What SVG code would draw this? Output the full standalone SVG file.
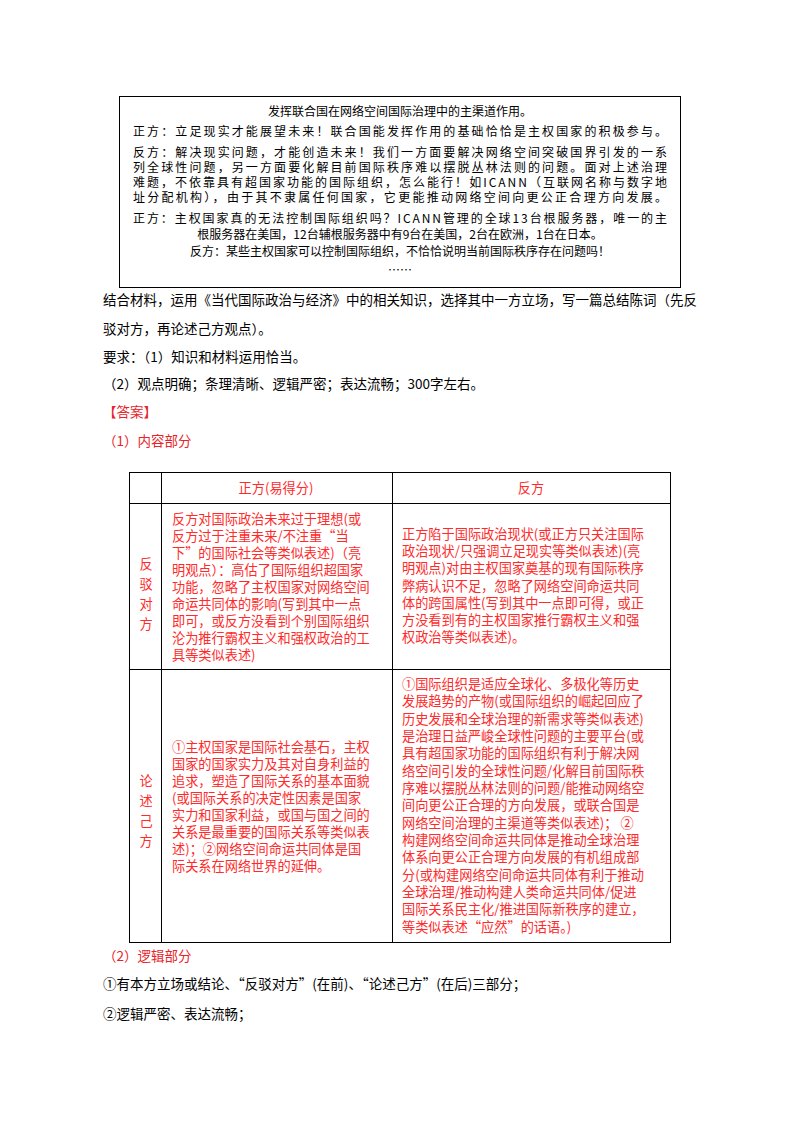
<svg xmlns="http://www.w3.org/2000/svg" width="800" height="1132" viewBox="0 0 800 1132">
<style>
text{font-family:"Noto Sans CJK SC","Liberation Sans",sans-serif;}
.b{font-size:12px;fill:#000}
.p{font-size:13.5px;fill:#000}
.r{font-size:13.5px;fill:#e8232a}
.t{font-size:13.2px;fill:#ff2a2a}
.ln{stroke:#000;stroke-width:1;fill:none}
</style>
<rect width="800" height="1132" fill="#fff"/>
<g id="material">
<rect x="119.5" y="96.5" width="561" height="191" class="ln"/>
<text class="b" x="400" y="116" text-anchor="middle">发挥联合国在网络空间国际治理中的主渠道作用。</text>
<text class="b" x="133" y="136" textLength="534" lengthAdjust="spacing">正方：立足现实才能展望未来！联合国能发挥作用的基础恰恰是主权国家的积极参与。</text>
<text class="b" x="133" y="157" textLength="534" lengthAdjust="spacing">反方：解决现实问题，才能创造未来！我们一方面要解决网络空间突破国界引发的一系</text>
<text class="b" x="133" y="172" textLength="534" lengthAdjust="spacing">列全球性问题，另一方面要化解目前国际秩序难以摆脱丛林法则的问题。面对上述治理</text>
<text class="b" x="133" y="187" textLength="534" lengthAdjust="spacing">难题，不依靠具有超国家功能的国际组织，怎么能行！如ICANN（互联网名称与数字地</text>
<text class="b" x="133" y="202" textLength="534" lengthAdjust="spacing">址分配机构），由于其不隶属任何国家，它更能推动网络空间向更公正合理方向发展。</text>
<text class="b" x="133" y="223" textLength="534" lengthAdjust="spacing">正方：主权国家真的无法控制国际组织吗？ICANN管理的全球13台根服务器，唯一的主</text>
<text class="b" x="400" y="239" text-anchor="middle">根服务器在美国，12台辅根服务器中有9台在美国，2台在欧洲，1台在日本。</text>
<text class="b" x="400" y="256" text-anchor="middle">反方：某些主权国家可以控制国际组织，不恰恰说明当前国际秩序存在问题吗！</text>
<text class="b" x="400" y="275" text-anchor="middle">……</text>
</g>
<g id="question">
<text class="p" x="103" y="305" textLength="594" lengthAdjust="spacing">结合材料，运用《当代国际政治与经济》中的相关知识，选择其中一方立场，写一篇总结陈词（先反</text>
<text class="p" x="103" y="334">驳对方，再论述己方观点）。</text>
<text class="p" x="103" y="362">要求：（1）知识和材料运用恰当。</text>
<text class="p" x="103" y="389">（2）观点明确；条理清晰、逻辑严密；表达流畅；300字左右。</text>
<text class="r" x="103" y="417">【答案】</text>
<text class="r" x="103" y="446">（1）内容部分</text>
</g>
<g id="table">
<rect x="129.5" y="472.5" width="541" height="470" class="ln"/>
<line x1="161.5" y1="472" x2="161.5" y2="943" class="ln"/>
<line x1="392.5" y1="472" x2="392.5" y2="943" class="ln"/>
<line x1="129" y1="503.5" x2="671" y2="503.5" class="ln"/>
<line x1="129" y1="669.5" x2="671" y2="669.5" class="ln"/>
<text class="t" x="276" y="493" text-anchor="middle">正方(易得分)</text>
<text class="t" x="531" y="493" text-anchor="middle">反方</text>
<g text-anchor="middle">
<text class="t" x="146" y="569">反</text><text class="t" x="146" y="589">驳</text><text class="t" x="146" y="609">对</text><text class="t" x="146" y="629">方</text>
<text class="t" x="146" y="786">论</text><text class="t" x="146" y="806">述</text><text class="t" x="146" y="826">己</text><text class="t" x="146" y="846">方</text>
</g>
<g id="cell-a1">
<text class="t" x="172" y="524">反方对国际政治未来过于理想(或</text>
<text class="t" x="172" y="541">反方过于注重未来/不注重“当</text>
<text class="t" x="172" y="558">下”的国际社会等类似表述)（亮</text>
<text class="t" x="172" y="575">明观点）：高估了国际组织超国家</text>
<text class="t" x="172" y="592">功能，忽略了主权国家对网络空间</text>
<text class="t" x="172" y="609">命运共同体的影响(写到其中一点</text>
<text class="t" x="172" y="626">即可，或反方没看到个别国际组织</text>
<text class="t" x="172" y="643">沦为推行霸权主义和强权政治的工</text>
<text class="t" x="172" y="660">具等类似表述)</text>
</g>
<g id="cell-b1">
<text class="t" x="402" y="539">正方陷于国际政治现状(或正方只关注国际</text>
<text class="t" x="402" y="556">政治现状/只强调立足现实等类似表述)(亮</text>
<text class="t" x="402" y="573">明观点)对由主权国家奠基的现有国际秩序</text>
<text class="t" x="402" y="591">弊病认识不足，忽略了网络空间命运共同</text>
<text class="t" x="402" y="608">体的跨国属性(写到其中一点即可得，或正</text>
<text class="t" x="402" y="625">方没看到有的主权国家推行霸权主义和强</text>
<text class="t" x="402" y="642">权政治等类似表述)。</text>
</g>
<g id="cell-a2">
<text class="t" x="172" y="752">①主权国家是国际社会基石，主权</text>
<text class="t" x="172" y="769">国家的国家实力及其对自身利益的</text>
<text class="t" x="172" y="786">追求，塑造了国际关系的基本面貌</text>
<text class="t" x="172" y="803">(或国际关系的决定性因素是国家</text>
<text class="t" x="172" y="820">实力和国家利益，或国与国之间的</text>
<text class="t" x="172" y="837">关系是最重要的国际关系等类似表</text>
<text class="t" x="172" y="854">述)；②网络空间命运共同体是国</text>
<text class="t" x="172" y="871">际关系在网络世界的延伸。</text>
</g>
<g id="cell-b2">
<text class="t" x="402" y="689">①国际组织是适应全球化、多极化等历史</text>
<text class="t" x="402" y="706">发展趋势的产物(或国际组织的崛起回应了</text>
<text class="t" x="402" y="724">历史发展和全球治理的新需求等类似表述)</text>
<text class="t" x="402" y="741">是治理日益严峻全球性问题的主要平台(或</text>
<text class="t" x="402" y="758">具有超国家功能的国际组织有利于解决网</text>
<text class="t" x="402" y="776">络空间引发的全球性问题/化解目前国际秩</text>
<text class="t" x="402" y="793">序难以摆脱丛林法则的问题/能推动网络空</text>
<text class="t" x="402" y="810">间向更公正合理的方向发展，或联合国是</text>
<text class="t" x="402" y="828">网络空间治理的主渠道等类似表述)； ②</text>
<text class="t" x="402" y="845">构建网络空间命运共同体是推动全球治理</text>
<text class="t" x="402" y="862">体系向更公正合理方向发展的有机组成部</text>
<text class="t" x="402" y="880">分(或构建网络空间命运共同体有利于推动</text>
<text class="t" x="402" y="897">全球治理/推动构建人类命运共同体/促进</text>
<text class="t" x="402" y="914">国际关系民主化/推进国际新秩序的建立，</text>
<text class="t" x="402" y="932">等类似表述“应然”的话语。)</text>
</g>
</g>
<g id="logic">
<text class="r" x="103" y="961">（2）逻辑部分</text>
<text class="p" x="103" y="989">①有本方立场或结论、“反驳对方”(在前)、“论述己方”(在后)三部分；</text>
<text class="p" x="103" y="1019">②逻辑严密、表达流畅；</text>
</g>
</svg>
